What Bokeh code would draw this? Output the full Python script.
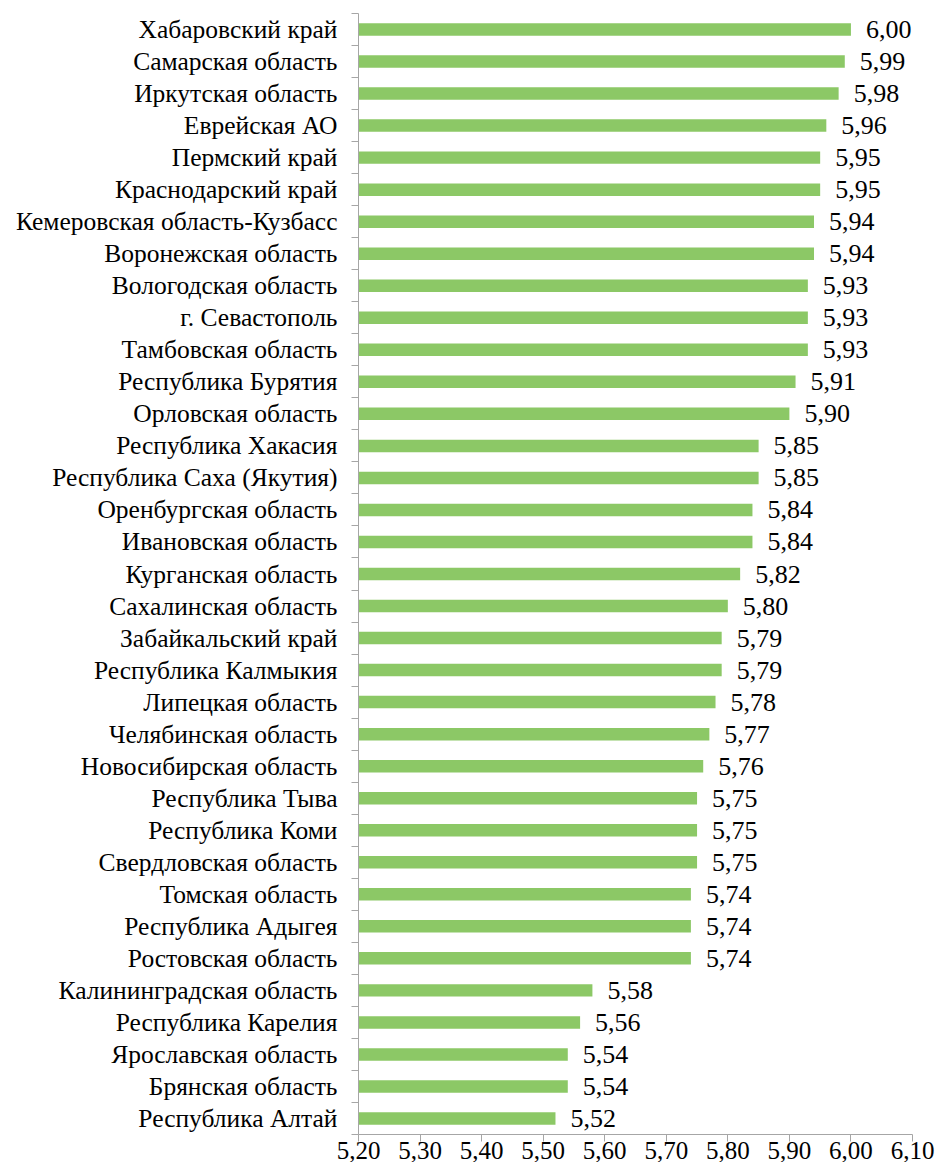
from bokeh.plotting import figure
from bokeh.models import (Range1d, LinearAxis, FixedTicker, ColumnDataSource, LabelSet)
from bokeh.embed import file_html
from bokeh.resources import INLINE

# Regions ordered from highest to lowest value
regions = [
    "Хабаровский край", "Самарская область", "Иркутская область", "Еврейская АО",
    "Пермский край", "Краснодарский край", "Кемеровская область-Кузбасс",
    "Воронежская область", "Вологодская область", "г. Севастополь",
    "Тамбовская область", "Республика Бурятия", "Орловская область",
    "Республика Хакасия", "Республика Саха (Якутия)", "Оренбургская область",
    "Ивановская область", "Курганская область", "Сахалинская область",
    "Забайкальский край", "Республика Калмыкия", "Липецкая область",
    "Челябинская область", "Новосибирская область", "Республика Тыва",
    "Республика Коми", "Свердловская область", "Томская область",
    "Республика Адыгея", "Ростовская область", "Калининградская область",
    "Республика Карелия", "Ярославская область", "Брянская область",
    "Республика Алтай",
]
scores = [
    6.00, 5.99, 5.98, 5.96, 5.95, 5.95, 5.94, 5.94, 5.93, 5.93,
    5.93, 5.91, 5.90, 5.85, 5.85, 5.84, 5.84, 5.82, 5.80, 5.79,
    5.79, 5.78, 5.77, 5.76, 5.75, 5.75, 5.75, 5.74, 5.74, 5.74,
    5.58, 5.56, 5.54, 5.54, 5.52,
]
tick_values = [5.20, 5.30, 5.40, 5.50, 5.60, 5.70, 5.80, 5.90, 6.00, 6.10]
tick_labels = ["5,20", "5,30", "5,40", "5,50", "5,60", "5,70", "5,80", "5,90", "6,00", "6,10"]

FONT = "Liberation Serif"
BAR = "#8CC866"
AXIS = "#A6A6A6"

n = len(regions)
# first region on top: row centres count down from the top of the band range
rows = [n - i - 0.5 for i in range(n)]
score_text = [f"{v:.2f}".replace(".", ",") for v in scores]
src = ColumnDataSource(dict(row=rows, region=regions, score=scores, text=score_text))

p = figure(width=938, height=1162, output_backend="svg", toolbar_location=None,
           y_range=Range1d(0, n),
           x_range=Range1d(tick_values[0], tick_values[-1]),
           min_border_left=358, min_border_right=26,
           min_border_top=13, min_border_bottom=28)
p.outline_line_color = None
p.grid.grid_line_color = None
p.background_fill_color = "white"

p.hbar(y="row", left=tick_values[0], right="score", height=0.39,
       color=BAR, line_color=None, source=src)

p.add_layout(LabelSet(x="score", y="row", text="text", source=src,
                      x_offset=15, text_baseline="middle",
                      text_font=FONT, text_font_size="26px",
                      text_color="black"))

# x axis
xa = p.xaxis[0]
xa.ticker = FixedTicker(ticks=tick_values)
xa.major_label_overrides = dict(zip(tick_values, tick_labels))
xa.axis_line_color = AXIS
xa.major_tick_line_color = AXIS
xa.major_tick_in = 0
xa.major_tick_out = 7
xa.minor_tick_line_color = None
xa.major_label_standoff = 0
xa.major_label_text_font = FONT
xa.major_label_text_font_size = "25px"
xa.major_label_text_color = "black"

# region names at row centres (no ticks, no line)
ya = p.yaxis[0]
ya.ticker = FixedTicker(ticks=rows)
ya.major_label_overrides = dict(zip(rows, regions))
ya.axis_line_color = None
ya.major_tick_line_color = None
ya.minor_tick_line_color = None
ya.major_label_standoff = 8
ya.major_label_text_font = FONT
ya.major_label_text_font_size = "25.5px"
ya.major_label_text_color = "black"

# axis line with ticks on the row boundaries
ba = LinearAxis(ticker=FixedTicker(ticks=list(range(n + 1))))
ba.axis_line_color = AXIS
ba.major_tick_line_color = AXIS
ba.major_tick_in = 0
ba.major_tick_out = 7
ba.minor_tick_line_color = None
ba.major_label_text_font_size = "0px"
ba.major_label_text_color = None
ba.major_label_standoff = 0
p.left = [ba, ya]

open("out.html", "w").write(file_html(p, INLINE))
